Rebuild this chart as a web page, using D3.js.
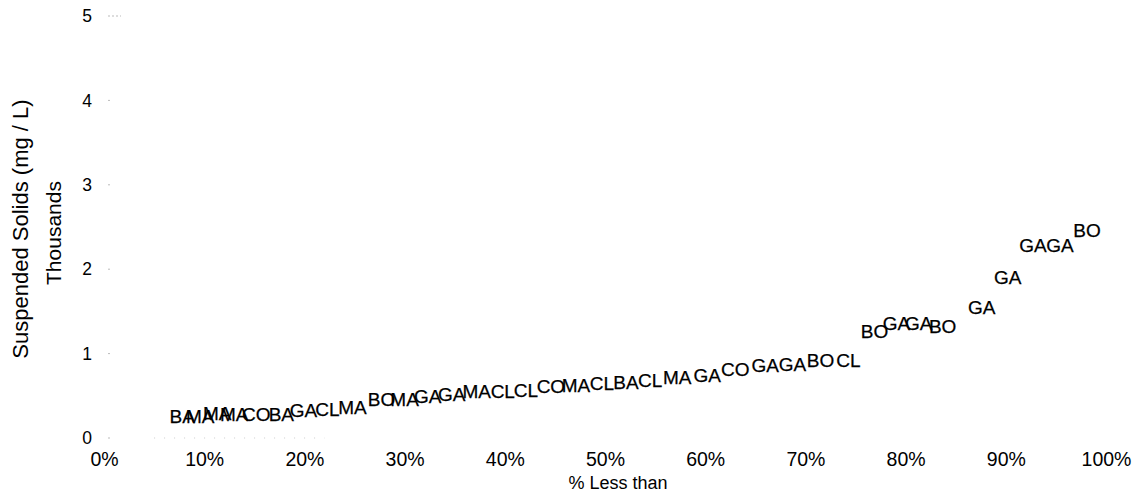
<!DOCTYPE html>
<html>
<head>
<meta charset="utf-8">
<script src="https://cdn.jsdelivr.net/npm/d3@7"></script>
<style>
  html, body { margin: 0; padding: 0; background: #fff; }
  svg { display: block; font-family: "Liberation Sans", Arial, sans-serif; }
</style>
</head>
<body>
<svg id="chart" width="1146" height="498"></svg>
<script>
// Station code for each sample, ordered by cumulative frequency
const stations = ["BA","MA","MA","MA","CO","BA","GA","CL","MA","BO",
                  "MA","GA","GA","MA","CL","CL","CO","MA","CL","BA",
                  "CL","MA","GA","CO","GA","GA","BO","CL","BO","GA",
                  "GA","BO","GA","GA","GA","GA","BO"];
// Percent of samples less than this value
const pctLess = [7.8, 9.6, 11.3, 13.0, 15.2, 17.7, 19.9, 22.3, 24.8, 27.7,
                 30.0, 32.3, 34.7, 37.2, 39.8, 42.1, 44.6, 47.1, 49.7, 52.1,
                 54.5, 57.2, 60.2, 63.0, 66.0, 68.7, 71.5, 74.3, 76.9, 79.1,
                 81.3, 83.7, 87.6, 90.2, 92.7, 95.4, 98.1];
// Suspended solids, thousands of mg/L
const solids = [0.26, 0.26, 0.30, 0.28, 0.28, 0.28, 0.33, 0.34, 0.36, 0.46,
                0.46, 0.50, 0.52, 0.56, 0.56, 0.57, 0.62, 0.63, 0.65, 0.66,
                0.69, 0.72, 0.75, 0.81, 0.86, 0.87, 0.92, 0.92, 1.27, 1.36,
                1.36, 1.33, 1.55, 1.90, 2.28, 2.28, 2.46];
const xTicks = [0, 10, 20, 30, 40, 50, 60, 70, 80, 90, 100];
const yTicks = [0, 1, 2, 3, 4, 5];

const svg = d3.select("#chart");
const x = d3.scaleLinear().domain([0, 100]).range([104, 1106]);
const y = d3.scaleLinear().domain([0, 5]).range([438, 16]);
const FONT = "Liberation Sans, Arial, sans-serif";

// y axis: labels only, with faint short ticks
const yAxis = d3.axisLeft(y).tickValues(yTicks).tickSize(0).tickPadding(0)
  .tickFormat(d3.format("d"));
const gy = svg.append("g").attr("transform", "translate(92,0)").call(yAxis);
gy.select(".domain").remove();
gy.selectAll("text").attr("font-size", 17.5).attr("fill", "#000")
  .attr("font-family", FONT);

svg.append("g").selectAll("line").data(yTicks).join("line")
  .attr("x1", 108).attr("x2", d => d === 5 ? 121 : 110)
  .attr("y1", d => y(d)).attr("y2", d => y(d))
  .attr("stroke", "#bbb").attr("stroke-width", 1).attr("stroke-dasharray", "2,2");

// x axis: labels only
const xAxis = d3.axisBottom(x).tickValues(xTicks).tickSize(0).tickPadding(0)
  .tickFormat(d => d + "%");
const gx = svg.append("g").attr("transform", "translate(0,452)").call(xAxis);
gx.select(".domain").remove();
gx.selectAll("text").attr("font-size", 19.5).attr("fill", "#000")
  .attr("dy", "0.71em")
  .attr("font-family", FONT);

// faint remnants of the baseline
svg.append("line").attr("x1", x(5)).attr("x2", x(22))
  .attr("y1", 438).attr("y2", 438)
  .attr("stroke", "#ccc").attr("stroke-dasharray", "1,9");

// axis titles
svg.append("text").attr("x", 618).attr("y", 489).attr("text-anchor", "middle")
  .attr("font-size", 18).attr("fill", "#000").text("% Less than");
svg.append("text").attr("transform", "translate(28,229) rotate(-90)")
  .attr("text-anchor", "middle").attr("font-size", 22).attr("fill", "#000")
  .text("Suspended Solids (mg / L)");
svg.append("text").attr("transform", "translate(61,233) rotate(-90)")
  .attr("text-anchor", "middle").attr("font-size", 21).attr("fill", "#000")
  .text("Thousands");

// each sample drawn as its station code
const pts = stations.map((s, i) => ({ s, p: pctLess[i], v: solids[i] }));
svg.append("g").selectAll("text").data(pts).join("text")
  .attr("x", d => x(d.p)).attr("y", d => y(d.v))
  .attr("text-anchor", "middle").attr("dy", "0.36em")
  .attr("font-size", 19).attr("fill", "#000")
  .attr("stroke", "#000").attr("stroke-width", 0.25)
  .text(d => d.s);
</script>
</body>
</html>
